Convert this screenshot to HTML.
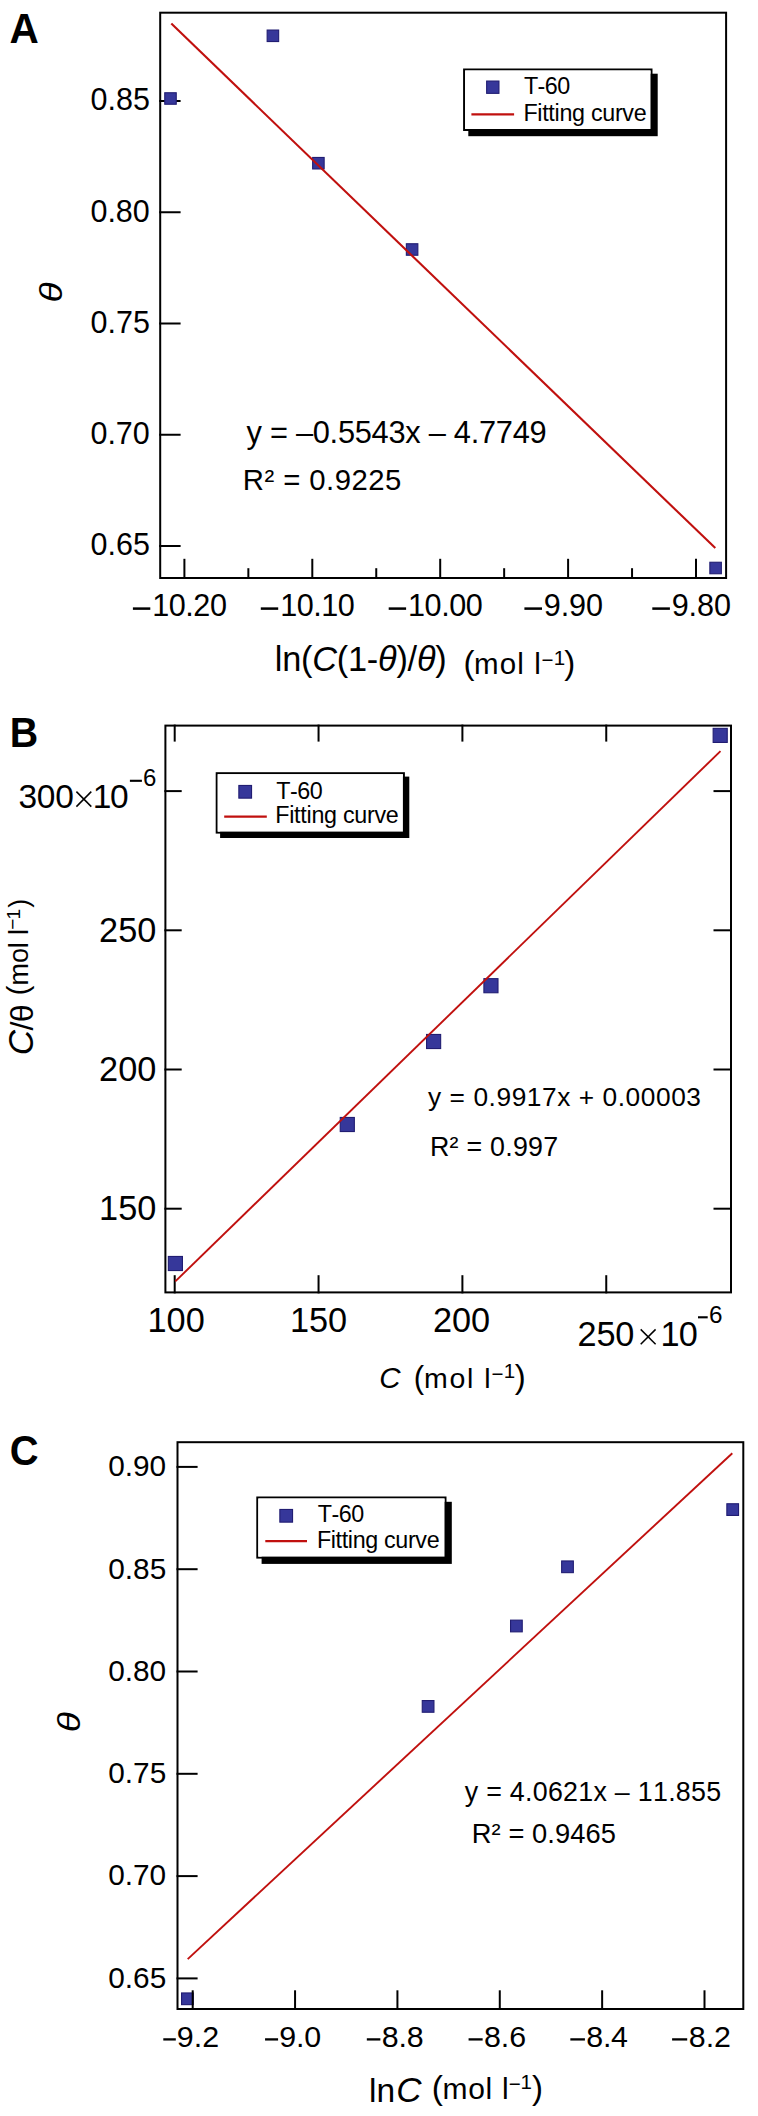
<!DOCTYPE html>
<html><head><meta charset="utf-8"><style>
html,body{margin:0;padding:0;background:#fff;overflow:hidden;}
svg{display:block;}
text{font-family:"Liberation Sans", sans-serif;fill:#000;}
</style></head><body>
<svg width="758" height="2116" viewBox="0 0 758 2116">
<rect width="758" height="2116" fill="#fff"/>
<text transform="translate(9.39,43.20) scale(0.9652,1)" font-size="42.01" font-weight="bold">A</text>
<line x1="159.20" y1="101.00" x2="180.60" y2="101.00" stroke="#000" stroke-width="2" stroke-linecap="butt"/>
<line x1="159.20" y1="212.25" x2="180.60" y2="212.25" stroke="#000" stroke-width="2" stroke-linecap="butt"/>
<line x1="159.20" y1="323.50" x2="180.60" y2="323.50" stroke="#000" stroke-width="2" stroke-linecap="butt"/>
<line x1="159.20" y1="434.75" x2="180.60" y2="434.75" stroke="#000" stroke-width="2" stroke-linecap="butt"/>
<line x1="159.20" y1="546.00" x2="180.60" y2="546.00" stroke="#000" stroke-width="2" stroke-linecap="butt"/>
<line x1="184.40" y1="579.00" x2="184.40" y2="558.80" stroke="#000" stroke-width="2" stroke-linecap="butt"/>
<line x1="248.35" y1="579.00" x2="248.35" y2="568.20" stroke="#000" stroke-width="2" stroke-linecap="butt"/>
<line x1="312.30" y1="579.00" x2="312.30" y2="558.80" stroke="#000" stroke-width="2" stroke-linecap="butt"/>
<line x1="376.25" y1="579.00" x2="376.25" y2="568.20" stroke="#000" stroke-width="2" stroke-linecap="butt"/>
<line x1="440.20" y1="579.00" x2="440.20" y2="558.80" stroke="#000" stroke-width="2" stroke-linecap="butt"/>
<line x1="504.15" y1="579.00" x2="504.15" y2="568.20" stroke="#000" stroke-width="2" stroke-linecap="butt"/>
<line x1="568.10" y1="579.00" x2="568.10" y2="558.80" stroke="#000" stroke-width="2" stroke-linecap="butt"/>
<line x1="632.05" y1="579.00" x2="632.05" y2="568.20" stroke="#000" stroke-width="2" stroke-linecap="butt"/>
<line x1="696.00" y1="579.00" x2="696.00" y2="558.80" stroke="#000" stroke-width="2" stroke-linecap="butt"/>
<rect x="164.75" y="92.75" width="11.50" height="11.50" fill="#36379a" stroke="#211d72" stroke-width="1.1"/>
<rect x="267.15" y="30.05" width="11.50" height="11.50" fill="#36379a" stroke="#211d72" stroke-width="1.1"/>
<rect x="312.65" y="157.45" width="11.50" height="11.50" fill="#36379a" stroke="#211d72" stroke-width="1.1"/>
<rect x="406.35" y="243.75" width="11.50" height="11.50" fill="#36379a" stroke="#211d72" stroke-width="1.1"/>
<rect x="709.85" y="562.25" width="11.50" height="11.50" fill="#36379a" stroke="#211d72" stroke-width="1.1"/>
<line x1="171.30" y1="23.60" x2="715.30" y2="548.10" stroke="#c0100e" stroke-width="2.1" stroke-linecap="butt"/>
<rect x="160.20" y="12.70" width="565.90" height="565.30" fill="none" stroke="#000" stroke-width="2"/>
<text x="90.52 107.48 115.96 132.92" y="110.30" font-size="30.5">0.85</text>
<text x="90.43 107.39 115.87 132.83" y="221.55" font-size="30.5">0.80</text>
<text x="90.52 107.48 115.96 132.92" y="332.80" font-size="30.5">0.75</text>
<text x="90.43 107.39 115.87 132.83" y="444.05" font-size="30.5">0.70</text>
<text x="90.52 107.48 115.96 132.92" y="555.30" font-size="30.5">0.65</text>
<text x="152.27 168.80 185.33 193.35 209.88" y="616.00" font-size="30.6">10.20</text>
<rect x="132.90" y="607.35" width="17.40" height="2.50" fill="#000" stroke="none" stroke-width="0"/>
<text x="280.17 296.70 313.23 321.25 337.78" y="616.00" font-size="30.6">10.10</text>
<rect x="260.80" y="607.35" width="17.40" height="2.50" fill="#000" stroke="none" stroke-width="0"/>
<text x="408.07 424.60 441.13 449.15 465.68" y="616.00" font-size="30.6">10.00</text>
<rect x="388.70" y="607.35" width="17.40" height="2.50" fill="#000" stroke="none" stroke-width="0"/>
<text x="543.77 560.67 569.07 585.98" y="616.00" font-size="30.6">9.90</text>
<rect x="524.40" y="607.35" width="17.60" height="2.50" fill="#000" stroke="none" stroke-width="0"/>
<text x="671.67 688.57 696.97 713.88" y="616.00" font-size="30.6">9.80</text>
<rect x="652.30" y="607.35" width="17.60" height="2.50" fill="#000" stroke="none" stroke-width="0"/>
<rect x="468.30" y="73.70" width="189.40" height="62.50" fill="#000" stroke="none" stroke-width="0"/>
<rect x="464.10" y="69.50" width="187.40" height="60.50" fill="none" stroke="#000" stroke-width="2"/>
<rect x="465.10" y="70.50" width="185.40" height="58.50" fill="#fff"/>
<rect x="486.65" y="81.05" width="12.30" height="12.30" fill="#36379a" stroke="#211d72" stroke-width="1.1"/>
<line x1="471.40" y1="114.40" x2="514.10" y2="114.40" stroke="#c0100e" stroke-width="2.2" stroke-linecap="butt"/>
<text x="523.98 537.62 544.79 557.15" y="94.00" font-size="23.3">T-60</text>
<text x="523.39 537.32 542.19 548.36 554.53 559.40 572.05 584.71 590.88 602.22 614.88 622.33 633.68" y="120.80" font-size="23.3">Fitting curve</text>
<text x="246.52 261.65 269.93 287.64 295.92 312.77 329.62 337.90 354.75 371.60 388.46 405.31 420.43 428.71 445.56 453.84 470.69 478.97 495.83 512.68 529.53" y="443.40" font-size="30.8">y = –0.5543x – 4.7749</text>
<text x="242.80 264.41 274.61 283.21 300.77 309.36 326.11 334.70 351.44 368.19 384.94" y="490.30" font-size="29.3">R² = 0.9225</text>
<g transform="translate(62.3,302.4) rotate(-90)"><text x="0" y="0" font-size="31" font-style="italic" transform="scale(1.2,1)">θ</text></g>
<text x="274.79 282.19 301.04" y="670.50" font-size="34.3">ln(</text>
<text x="312.24" y="670.50" font-size="34.3" font-style="italic">C</text>
<text x="336.78 347.98 366.83" y="670.50" font-size="34.3">(1-</text>
<text x="378.03" y="670.50" font-size="34.3" font-style="italic">θ</text>
<text x="396.42 407.62" y="670.50" font-size="34.3">)/</text>
<text x="416.92" y="670.50" font-size="34.3" font-style="italic">θ</text>
<text x="435.30" y="670.50" font-size="34.3">)</text>
<text x="463.55" y="674.00" font-size="33">(</text>
<text x="474.04 499.73 517.25 524.91 534.22" y="673.60" font-size="29.5">mol l</text>
<text x="541.49" y="667.00" font-size="20.5">−</text>
<text x="553.64" y="664.50" font-size="20.5">1</text>
<text x="564.31" y="674.00" font-size="33">)</text>
<text transform="translate(9.87,746.90) scale(0.9209,1)" font-size="42.73" font-weight="bold">B</text>
<line x1="164.40" y1="791.10" x2="181.70" y2="791.10" stroke="#000" stroke-width="2" stroke-linecap="butt"/>
<line x1="732.00" y1="791.10" x2="713.50" y2="791.10" stroke="#000" stroke-width="2" stroke-linecap="butt"/>
<line x1="164.40" y1="930.30" x2="181.70" y2="930.30" stroke="#000" stroke-width="2" stroke-linecap="butt"/>
<line x1="732.00" y1="930.30" x2="713.50" y2="930.30" stroke="#000" stroke-width="2" stroke-linecap="butt"/>
<line x1="164.40" y1="1069.50" x2="181.70" y2="1069.50" stroke="#000" stroke-width="2" stroke-linecap="butt"/>
<line x1="732.00" y1="1069.50" x2="713.50" y2="1069.50" stroke="#000" stroke-width="2" stroke-linecap="butt"/>
<line x1="164.40" y1="1208.70" x2="181.70" y2="1208.70" stroke="#000" stroke-width="2" stroke-linecap="butt"/>
<line x1="732.00" y1="1208.70" x2="713.50" y2="1208.70" stroke="#000" stroke-width="2" stroke-linecap="butt"/>
<line x1="174.70" y1="1293.40" x2="174.70" y2="1275.20" stroke="#000" stroke-width="2" stroke-linecap="butt"/>
<line x1="174.70" y1="724.60" x2="174.70" y2="741.60" stroke="#000" stroke-width="2" stroke-linecap="butt"/>
<line x1="318.55" y1="1293.40" x2="318.55" y2="1275.20" stroke="#000" stroke-width="2" stroke-linecap="butt"/>
<line x1="318.55" y1="724.60" x2="318.55" y2="741.60" stroke="#000" stroke-width="2" stroke-linecap="butt"/>
<line x1="462.40" y1="1293.40" x2="462.40" y2="1275.20" stroke="#000" stroke-width="2" stroke-linecap="butt"/>
<line x1="462.40" y1="724.60" x2="462.40" y2="741.60" stroke="#000" stroke-width="2" stroke-linecap="butt"/>
<line x1="606.25" y1="1293.40" x2="606.25" y2="1275.20" stroke="#000" stroke-width="2" stroke-linecap="butt"/>
<line x1="606.25" y1="724.60" x2="606.25" y2="741.60" stroke="#000" stroke-width="2" stroke-linecap="butt"/>
<rect x="168.35" y="1256.45" width="14.10" height="14.10" fill="#36379a" stroke="#211d72" stroke-width="1.1"/>
<rect x="340.25" y="1117.45" width="14.10" height="14.10" fill="#36379a" stroke="#211d72" stroke-width="1.1"/>
<rect x="426.55" y="1034.45" width="14.10" height="14.10" fill="#36379a" stroke="#211d72" stroke-width="1.1"/>
<rect x="483.90" y="978.65" width="14.10" height="14.10" fill="#36379a" stroke="#211d72" stroke-width="1.1"/>
<rect x="713.15" y="728.35" width="14.10" height="14.10" fill="#36379a" stroke="#211d72" stroke-width="1.1"/>
<line x1="175.30" y1="1281.40" x2="720.50" y2="751.10" stroke="#c0100e" stroke-width="1.9" stroke-linecap="butt"/>
<rect x="165.40" y="725.60" width="565.60" height="566.80" fill="none" stroke="#000" stroke-width="2"/>
<text x="18.52 36.85 55.18" y="808.30" font-size="33.5">300</text>
<line x1="76.40" y1="791.60" x2="91.30" y2="806.60" stroke="#000" stroke-width="1.5" stroke-linecap="butt"/>
<line x1="91.30" y1="791.60" x2="76.40" y2="806.60" stroke="#000" stroke-width="1.5" stroke-linecap="butt"/>
<text x="92.85 109.88" y="808.30" font-size="33.5">10</text>
<rect x="129.90" y="779.75" width="12.00" height="2.10" fill="#000" stroke="none" stroke-width="0"/>
<text x="142.88" y="786.20" font-size="24">6</text>
<text x="99.11 118.19 137.26" y="941.90" font-size="34.3">250</text>
<text x="99.11 118.19 137.26" y="1081.10" font-size="34.3">200</text>
<text x="99.11 118.19 137.26" y="1220.30" font-size="34.3">150</text>
<text x="147.50 166.58 185.65" y="1332.40" font-size="34.3">100</text>
<text x="289.95 309.03 328.10" y="1332.40" font-size="34.3">150</text>
<text x="432.89 451.97 471.05" y="1332.40" font-size="34.3">200</text>
<text x="577.47 596.42 615.36" y="1345.60" font-size="34.3">250</text>
<line x1="640.70" y1="1329.40" x2="655.60" y2="1344.30" stroke="#000" stroke-width="1.5" stroke-linecap="butt"/>
<line x1="655.60" y1="1329.40" x2="640.70" y2="1344.30" stroke="#000" stroke-width="1.5" stroke-linecap="butt"/>
<text x="660.59 678.76" y="1345.60" font-size="34.3">10</text>
<rect x="698.00" y="1316.25" width="9.70" height="2.10" fill="#000" stroke="none" stroke-width="0"/>
<text x="708.97" y="1322.70" font-size="24.3">6</text>
<rect x="220.10" y="776.60" width="189.20" height="61.40" fill="#000" stroke="none" stroke-width="0"/>
<rect x="216.70" y="773.20" width="187.20" height="59.40" fill="none" stroke="#000" stroke-width="2"/>
<rect x="217.70" y="774.20" width="185.20" height="57.40" fill="#fff"/>
<rect x="238.85" y="785.45" width="12.70" height="12.70" fill="#36379a" stroke="#211d72" stroke-width="1.1"/>
<line x1="224.20" y1="816.70" x2="266.80" y2="816.70" stroke="#c0100e" stroke-width="2.2" stroke-linecap="butt"/>
<text x="276.18 289.92 297.19 309.65" y="798.60" font-size="23.3">T-60</text>
<text x="275.29 289.23 294.12 300.31 306.49 311.38 324.05 336.72 342.91 354.27 366.94 374.41 385.78" y="822.70" font-size="23.3">Fitting curve</text>
<text x="428.04 441.74 449.61 465.53 473.39 488.58 496.44 511.63 526.81 542.00 557.18 570.89 578.76 594.67 602.54 617.72 625.59 640.77 655.96 671.14 686.33" y="1105.70" font-size="26.3">y = 0.9917x + 0.00003</text>
<text x="430.00 449.61 458.78 466.48 482.38 490.08 505.23 512.93 528.09 543.24" y="1155.90" font-size="26.8">R² = 0.997</text>
<g transform="translate(33.2,1053.6) rotate(-90)">
<text x="-1.63" y="0.00" font-size="35" font-style="italic">C</text>
<text x="23.01 31.26" y="0.00" font-size="32">/θ</text>
</g>
<g transform="translate(28.0,1053.6) rotate(-90)">
<text x="58.40" y="0.00" font-size="29">(</text>
<text x="68.21 90.52 105.36 111.18 118.51" y="0.00" font-size="27">mol l</text>
</g>
<g transform="translate(19.5,1053.6) rotate(-90)">
<text x="123.86" y="-1.00" font-size="19">−</text>
<text x="134.05" y="0.00" font-size="19">1</text>
</g>
<g transform="translate(28.0,1053.6) rotate(-90)">
<text x="145.74" y="0.00" font-size="27">)</text>
</g>
<text x="379.27" y="1388.30" font-size="29.5" font-style="italic">C</text>
<text x="413.68" y="1387.80" font-size="31">(</text>
<text x="424.11 449.45 466.91 474.85 484.37" y="1387.60" font-size="28.5">mol l</text>
<text x="491.39" y="1380.90" font-size="20.5">−</text>
<text x="503.84" y="1378.00" font-size="20.5">1</text>
<text x="514.71" y="1388.00" font-size="33">)</text>
<text transform="translate(9.86,1464.68) scale(0.9236,1)" font-size="43.22" font-weight="bold">C</text>
<line x1="187.70" y1="1959.10" x2="732.30" y2="1453.20" stroke="#c0100e" stroke-width="1.9" stroke-linecap="butt"/>
<rect x="181.55" y="1992.95" width="11.70" height="11.70" fill="#36379a" stroke="#211d72" stroke-width="1.1"/>
<rect x="422.25" y="1700.55" width="11.70" height="11.70" fill="#36379a" stroke="#211d72" stroke-width="1.1"/>
<rect x="510.55" y="1620.15" width="11.70" height="11.70" fill="#36379a" stroke="#211d72" stroke-width="1.1"/>
<rect x="561.65" y="1560.95" width="11.70" height="11.70" fill="#36379a" stroke="#211d72" stroke-width="1.1"/>
<rect x="726.85" y="1503.75" width="11.70" height="11.70" fill="#36379a" stroke="#211d72" stroke-width="1.1"/>
<line x1="176.50" y1="1466.90" x2="197.60" y2="1466.90" stroke="#000" stroke-width="2" stroke-linecap="butt"/>
<line x1="176.50" y1="1569.20" x2="197.60" y2="1569.20" stroke="#000" stroke-width="2" stroke-linecap="butt"/>
<line x1="176.50" y1="1671.50" x2="197.60" y2="1671.50" stroke="#000" stroke-width="2" stroke-linecap="butt"/>
<line x1="176.50" y1="1773.80" x2="197.60" y2="1773.80" stroke="#000" stroke-width="2" stroke-linecap="butt"/>
<line x1="176.50" y1="1876.10" x2="197.60" y2="1876.10" stroke="#000" stroke-width="2" stroke-linecap="butt"/>
<line x1="176.50" y1="1978.40" x2="197.60" y2="1978.40" stroke="#000" stroke-width="2" stroke-linecap="butt"/>
<line x1="192.70" y1="2010.00" x2="192.70" y2="1990.30" stroke="#000" stroke-width="2" stroke-linecap="butt"/>
<line x1="295.06" y1="2010.00" x2="295.06" y2="1990.30" stroke="#000" stroke-width="2" stroke-linecap="butt"/>
<line x1="397.42" y1="2010.00" x2="397.42" y2="1990.30" stroke="#000" stroke-width="2" stroke-linecap="butt"/>
<line x1="499.78" y1="2010.00" x2="499.78" y2="1990.30" stroke="#000" stroke-width="2" stroke-linecap="butt"/>
<line x1="602.14" y1="2010.00" x2="602.14" y2="1990.30" stroke="#000" stroke-width="2" stroke-linecap="butt"/>
<line x1="704.50" y1="2010.00" x2="704.50" y2="1990.30" stroke="#000" stroke-width="2" stroke-linecap="butt"/>
<rect x="177.50" y="1442.20" width="565.80" height="566.80" fill="none" stroke="#000" stroke-width="2"/>
<text x="108.16 124.74 133.02 149.59" y="1476.20" font-size="29.8">0.90</text>
<text x="108.25 124.83 133.10 149.68" y="1578.50" font-size="29.8">0.85</text>
<text x="108.16 124.74 133.02 149.59" y="1680.80" font-size="29.8">0.80</text>
<text x="108.25 124.83 133.10 149.68" y="1783.10" font-size="29.8">0.75</text>
<text x="108.16 124.74 133.02 149.59" y="1885.40" font-size="29.8">0.70</text>
<text x="108.25 124.83 133.10 149.68" y="1987.70" font-size="29.8">0.65</text>
<text x="176.82 193.80 202.32" y="2047.20" font-size="30.4">9.2</text>
<rect x="163.30" y="2038.25" width="12.50" height="2.30" fill="#000" stroke="none" stroke-width="0"/>
<text x="279.19 295.99 304.34" y="2047.20" font-size="30.4">9.0</text>
<rect x="265.06" y="2038.25" width="13.02" height="2.30" fill="#000" stroke="none" stroke-width="0"/>
<text x="381.65 398.47 406.83" y="2047.20" font-size="30.4">8.8</text>
<rect x="366.82" y="2038.25" width="13.54" height="2.30" fill="#000" stroke="none" stroke-width="0"/>
<text x="484.01 500.84 509.21" y="2047.20" font-size="30.4">8.6</text>
<rect x="468.58" y="2038.25" width="14.06" height="2.30" fill="#000" stroke="none" stroke-width="0"/>
<text x="586.37 602.98 611.12" y="2047.20" font-size="30.4">8.4</text>
<rect x="570.34" y="2038.25" width="14.58" height="2.30" fill="#000" stroke="none" stroke-width="0"/>
<text x="688.73 705.66 714.12" y="2047.20" font-size="30.4">8.2</text>
<rect x="672.10" y="2038.25" width="15.10" height="2.30" fill="#000" stroke="none" stroke-width="0"/>
<rect x="261.60" y="1501.80" width="190.20" height="62.10" fill="#000" stroke="none" stroke-width="0"/>
<rect x="257.30" y="1497.50" width="188.20" height="60.10" fill="none" stroke="#000" stroke-width="2"/>
<rect x="258.30" y="1498.50" width="186.20" height="58.10" fill="#fff"/>
<rect x="279.85" y="1509.45" width="12.70" height="12.70" fill="#36379a" stroke="#211d72" stroke-width="1.1"/>
<line x1="265.30" y1="1541.20" x2="307.00" y2="1541.20" stroke="#c0100e" stroke-width="2.2" stroke-linecap="butt"/>
<text x="317.78 331.52 338.79 351.25" y="1522.20" font-size="23.3">T-60</text>
<text x="316.89 330.78 335.61 341.73 347.86 352.69 365.30 377.92 384.04 395.35 407.96 415.37 426.68" y="1547.50" font-size="23.3">Fitting curve</text>
<text x="464.73 478.41 486.14 502.07 509.80 524.98 532.71 547.89 563.07 578.26 593.44 607.12 614.85 630.03 637.76 652.94 668.13 675.85 691.04 706.22" y="1800.50" font-size="26.8">y = 4.0621x – 11.855</text>
<text x="471.76 491.55 500.72 508.38 524.40 532.06 547.32 554.98 570.24 585.50 600.76" y="1842.60" font-size="27.3">R² = 0.9465</text>
<g transform="translate(79.9,1732.3) rotate(-90)"><text x="0" y="0" font-size="31" font-style="italic" transform="scale(1.2,1)">θ</text></g>
<text x="368.94 376.39" y="2102.40" font-size="33.5">ln</text>
<text x="396.27" y="2102.40" font-size="35" font-style="italic">C</text>
<text x="431.82" y="2099.00" font-size="33.5">(</text>
<text x="442.41 468.14 485.56 492.97 502.04" y="2098.60" font-size="30">mol l</text>
<text x="508.69" y="2091.30" font-size="20.5">−</text>
<text x="520.44" y="2089.00" font-size="20.5">1</text>
<text x="532.11" y="2099.00" font-size="33">)</text>
</svg>
</body></html>
